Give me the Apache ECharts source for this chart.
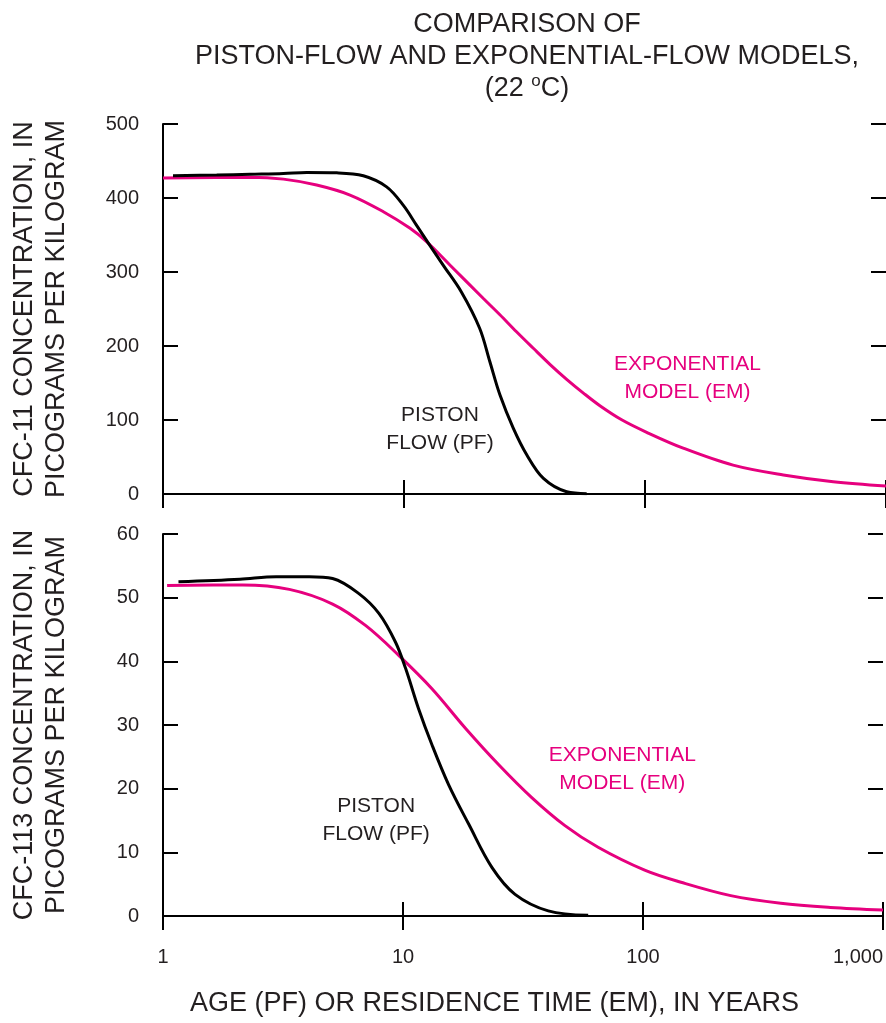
<!DOCTYPE html>
<html>
<head>
<meta charset="utf-8">
<script src="https://cdn.jsdelivr.net/npm/echarts@6/dist/echarts.min.js"></script>
<style>
html,body{margin:0;padding:0;background:#fff;}
#chart{width:886px;height:1023px;}
</style>
</head>
<body>
<div id="chart"></div>
<script>
// ---- data ----
const xTickValues = [1, 10, 100, 1000];
const xTickLabels = ['1', '10', '100', '1,000'];

// CFC-11 panel
const cfc11PistonAge  = [1.1, 1.67, 2.3, 3.16, 3.95, 5.26, 6.78, 8.47, 9.94, 11.28, 12.8, 14.56, 17.3, 20.6, 22.7, 25.0, 28.4, 32.3, 37.9, 47.3, 57.3];
const cfc11PistonConc = [430, 431, 432, 433, 434.5, 434, 430, 415, 390, 363, 336, 309, 273, 224, 179, 134, 89, 53, 21, 3, 0.5];
const cfc11ExpAge  = [1.0, 2.3, 3.16, 4.34, 5.97, 8.21, 10.6, 12.4, 15.5, 21.3, 25, 29.3, 34.4, 40.3, 47.3, 55.5, 65, 80, 101.6, 144, 232, 375, 604, 1000];
const cfc11ExpConc = [427, 428, 425.5, 417.5, 404, 381.5, 359, 341, 309.5, 264.5, 242.2, 219.2, 196.9, 175.3, 155, 136.4, 119.3, 100.3, 83.4, 62, 39, 25.7, 16.6, 10.8];

// CFC-113 panel
const cfc113PistonAge  = [1.16, 2.09, 2.96, 4.07, 5.09, 6.57, 7.95, 9.31, 10.25, 11.6, 13.2, 15.5, 18.8, 23.5, 29.3, 40.3, 59.1];
const cfc113PistonConc = [52.5, 52.9, 53.3, 53.3, 53.0, 50.6, 47.5, 43, 38.9, 32.6, 26.9, 20.6, 14.4, 7.6, 3.4, 0.8, 0.1];
const cfc113ExpAge  = [1.04, 2.15, 3.36, 5.09, 7.0, 9.62, 13.2, 18.2, 25, 34.4, 47.3, 65, 101.6, 144, 232, 375, 604, 1000];
const cfc113ExpConc = [51.9, 52.0, 51.3, 49.0, 45.6, 40.9, 35.7, 29.5, 23.8, 18.6, 14.2, 10.8, 7.2, 5.3, 3.2, 2.0, 1.35, 0.94];

// y-axis ranges
const cfc11Range = [0, 500, 100];
const cfc113Range = [0, 60, 10];

// annotation anchors (data coordinates)
const cfc11PistonNote = [14.1, 87];
const cfc11ExpNote = [150, 157];
const cfc113PistonNote = [7.73, 15.1];
const cfc113ExpNote = [82, 23.0];

// ---- chart ----
const FONT = 'Liberation Sans, Arial, Helvetica, sans-serif';
const INK = '#231f20';
const MAGENTA = '#e6007e';
const pairs = (xs, ys) => xs.map((x, i) => [x, ys[i]]);

function xAxisDef(gridIndex, position, showLabels, name) {
  const a = {
    type: 'log', logBase: 10, min: 1, max: 1000, gridIndex, position,
    axisLine: { show: true, lineStyle: { color: '#000', width: 2 } },
    axisTick: { show: true, inside: true, length: 14, lineStyle: { color: '#000', width: 2 } },
    minorTick: { show: false },
    splitLine: { show: false },
    axisLabel: {
      show: showLabels, margin: 31, fontSize: 20, fontFamily: FONT, color: INK,
      alignMaxLabel: 'right',
      formatter: v => { const i = xTickValues.indexOf(Math.round(v)); return i >= 0 ? xTickLabels[i] : ''; }
    }
  };
  if (name) {
    a.name = name; a.nameLocation = 'middle'; a.nameGap = 72;
    a.nameTextStyle = { fontSize: 27, fontFamily: FONT, color: INK, lineHeight: 32, padding: [0, 57, 0, 0] };
  }
  return a;
}
function yAxisDef(gridIndex, position, range, name) {
  const isLeft = position === 'left';
  const a = {
    type: 'value', gridIndex, position, min: range[0], max: range[1], interval: range[2],
    axisLine: { show: isLeft, lineStyle: { color: '#000', width: 2 } },
    axisTick: { show: true, inside: true, length: 15, lineStyle: { color: '#000', width: 2 } },
    splitLine: { show: false },
    axisLabel: { show: isLeft, margin: 24, fontSize: 20, fontFamily: FONT, color: INK }
  };
  if (name) {
    a.name = name; a.nameLocation = 'middle'; a.nameGap = 90; a.nameRotate = 90;
    a.nameTextStyle = { fontSize: 27, fontFamily: FONT, color: INK, lineHeight: 32 };
  }
  return a;
}
function note(coord, text, color) {
  return {
    symbol: 'circle', symbolSize: 0, silent: true,
    itemStyle: { color: 'rgba(0,0,0,0)' },
    label: { show: true, position: 'inside', formatter: text, fontSize: 21, lineHeight: 28,
             fontFamily: FONT, color: color, align: 'center' },
    data: [{ coord: coord }]
  };
}
function line(xi, yi, data, color, noteDef) {
  return {
    type: 'line', xAxisIndex: xi, yAxisIndex: yi, data, smooth: 0.35, showSymbol: false,
    symbol: 'none', lineStyle: { color, width: 3 }, itemStyle: { color }, silent: true,
    markPoint: noteDef, z: 3
  };
}

const chart = echarts.init(document.getElementById('chart'), null, { renderer: 'canvas' });
chart.setOption({
  animation: false,
  backgroundColor: '#fff',
  title: {
    text: 'COMPARISON OF\nPISTON-FLOW AND EXPONENTIAL-FLOW MODELS,\n(22 {sup|o}C)',
    left: 527, top: 9, textAlign: 'center', padding: 0,
    textStyle: {
      fontSize: 27, fontWeight: 'normal', fontFamily: FONT, color: INK, lineHeight: 32,
      rich: { sup: { fontSize: 17, fontFamily: FONT, color: INK, verticalAlign: 'top', lineHeight: 18 } }
    }
  },
  grid: [
    { left: 163, right: 0, top: 124, height: 370, containLabel: false },
    { left: 163, right: 0, top: 534, height: 382, containLabel: false }
  ],
  xAxis: [
    xAxisDef(0, 'bottom', false),
    xAxisDef(0, 'top', false),
    xAxisDef(1, 'bottom', true, 'AGE (PF) OR RESIDENCE TIME (EM), IN YEARS'),
    xAxisDef(1, 'top', false)
  ],
  yAxis: [
    yAxisDef(0, 'left', cfc11Range, 'CFC-11 CONCENTRATION, IN\nPICOGRAMS PER KILOGRAM'),
    yAxisDef(0, 'right', cfc11Range),
    yAxisDef(1, 'left', cfc113Range, 'CFC-113 CONCENTRATION, IN\nPICOGRAMS PER KILOGRAM'),
    yAxisDef(1, 'right', cfc113Range)
  ],
  series: [
    line(0, 0, pairs(cfc11ExpAge, cfc11ExpConc), MAGENTA, note(cfc11ExpNote, 'EXPONENTIAL\nMODEL (EM)', MAGENTA)),
    line(0, 0, pairs(cfc11PistonAge, cfc11PistonConc), '#000', note(cfc11PistonNote, 'PISTON\nFLOW (PF)', INK)),
    line(2, 2, pairs(cfc113ExpAge, cfc113ExpConc), MAGENTA, note(cfc113ExpNote, 'EXPONENTIAL\nMODEL (EM)', MAGENTA)),
    line(2, 2, pairs(cfc113PistonAge, cfc113PistonConc), '#000', note(cfc113PistonNote, 'PISTON\nFLOW (PF)', INK))
  ]
});
</script>
</body>
</html>
